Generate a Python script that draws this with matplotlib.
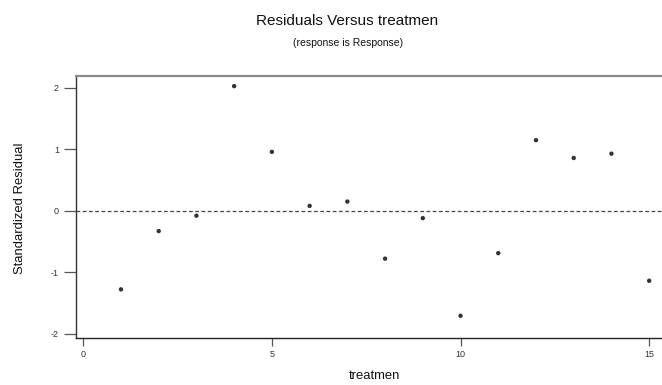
import matplotlib
matplotlib.use("Agg")
import matplotlib.pyplot as plt

# Standardized residuals by treatment
treatmen = [1, 2, 3, 4, 5, 6, 7, 8, 9, 10, 11, 12, 13, 14, 15]
std_resid = [-1.28, -0.33, -0.08, 2.03, 0.96, 0.08, 0.15, -0.78,
             -0.12, -1.71, -0.69, 1.15, 0.86, 0.93, -1.14]
x_ticks = [0, 5, 10, 15]
y_ticks = [-2, -1, 0, 1, 2]

plt.rcParams['font.family'] = ['Liberation Sans', 'DejaVu Sans']

W, H = 662, 385
fig = plt.figure(figsize=(W / 100, H / 100), dpi=100)
ax = fig.add_axes([75.7 / W, 1 - 338.3 / H, 1 - 75.7 / W, (338.3 - 75.7) / H])

ax.scatter(treatmen, std_resid, s=10, color='#333333', edgecolors='none', zorder=3)
ax.axhline(0, color='#444444', lw=0.9, ls=(0, (3, 2)), zorder=2)

ax.set_xlim(-0.20, 15.34)
ax.set_ylim(-2.077, 2.200)
ax.set_xticks(x_ticks)
ax.set_yticks(y_ticks)
ax.set_xticklabels([str(v) for v in x_ticks])
ax.set_yticklabels([str(v) for v in y_ticks])

ax.spines['right'].set_visible(False)
ax.spines['top'].set_color('#8a8a8a')
ax.spines['top'].set_linewidth(1.6)
ax.spines['left'].set_color('#333333')
ax.spines['left'].set_linewidth(1.0)
ax.spines['bottom'].set_color('#222222')
ax.spines['bottom'].set_linewidth(1.0)

ax.tick_params(axis='x', direction='out', length=5.8, width=0.9, color='#555555',
               pad=2.5, labelsize=6.5, labelcolor='#333333')
ax.tick_params(axis='y', direction='out', length=8.6, width=0.9, color='#555555',
               pad=3.4, labelsize=6.5, labelcolor='#333333')

fig.text(347 / W, 1 - 21 / H, 'Residuals Versus treatmen', ha='center', va='center',
         fontsize=11, color='#111111')
fig.text(348 / W, 1 - 43.5 / H, '(response is Response)', ha='center', va='center',
         fontsize=7.5, color='#111111')
fig.text(374 / W, 1 - 376 / H, 'treatmen', ha='center', va='center',
         fontsize=9.4, color='#111111')
fig.text(20 / W, 1 - 208 / H, 'Standardized Residual', ha='center', va='center',
         rotation=90, fontsize=9.4, color='#111111')

fig.savefig('out.png', dpi=100, facecolor='white')
